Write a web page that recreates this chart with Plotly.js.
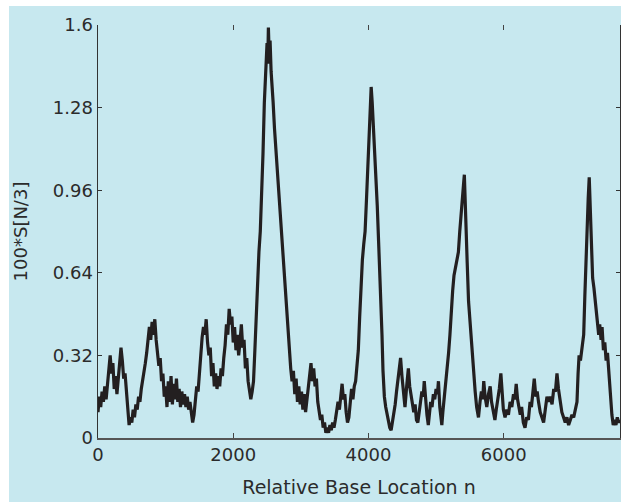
<!DOCTYPE html>
<html>
<head>
<meta charset="utf-8">
<script src="https://cdn.plot.ly/plotly-3.0.1.min.js"></script>
<style>
html,body{margin:0;padding:0;background:#ffffff;}
#chart{position:absolute;left:9px;top:6px;width:612px;height:496px;}
</style>
</head>
<body>
<div id="chart"></div>
<script>
// Relative base location n
const position = [
0,20,40,60,80,100,120,140,160,180,200,220,240,260,280,300,320,340,360,380,400,420,440,460,480,500,520,540,560,580,600,620,640,660,680,700,720,740,760,780,800,820,840,860,880,900,920,940,960,980,
1000,1020,1040,1060,1080,1100,1120,1140,1160,1180,1200,1220,1240,1260,1280,1300,1320,1340,1360,1380,1400,1420,1440,1460,1480,1500,1520,1540,1560,1580,1600,1620,1640,1660,1680,1700,1720,1740,1760,1780,1800,1820,1840,1860,1880,1900,1920,1940,1960,1980,
2000,2020,2040,2060,2080,2100,2120,2140,2160,2180,2200,2220,2240,2260,2280,2300,2320,2340,2360,2380,2400,2420,2440,2460,2480,2500,2510,2520,2530,2545,2560,2575,2590,2610,2630,2650,2670,2690,2710,2730,2750,2770,2790,2810,2830,2850,2870,2890,2910,2930,2950,2970,2990,
3010,3030,3050,3070,3090,3110,3130,3150,3170,3190,3210,3230,3250,3270,3290,3310,3330,3350,3370,3390,3410,3430,3450,3470,3490,3510,3530,3550,3570,3590,3610,3630,3650,3670,3690,3710,3730,3750,3770,3790,3810,3830,3850,3870,3890,3910,3930,3950,3970,3990,
4010,4025,4040,4055,4070,4085,4100,4115,4130,4150,4170,4190,4200,4215,4235,4255,4275,4295,4315,4335,4355,4375,4395,4415,4435,4455,4475,4495,4515,4540,4565,4590,4610,4630,4650,4670,4690,4710,4730,4750,4770,4790,4810,4825,4845,4865,4885,4905,4920,4940,4960,4980,
5000,5020,5035,5055,5070,5085,5100,5115,5135,5150,5165,5185,5205,5225,5245,5265,5285,5305,5330,5350,5370,5390,5405,5418,5430,5445,5460,5480,5505,5528,5550,5578,5600,5627,5650,5670,5690,5705,5725,5750,5775,5800,5820,5845,5870,5890,5910,5935,5958,5975,5995,
6020,6045,6070,6095,6120,6145,6165,6185,6205,6225,6245,6265,6290,6315,6340,6365,6390,6410,6430,6452,6475,6495,6515,6540,6565,6590,6615,6640,6665,6690,6715,6740,6765,6788,6810,6837,6860,6885,6910,6935,6960,6985,
7010,7035,7060,7084,7100,7115,7135,7160,7183,7200,7215,7232,7250,7265,7280,7295,7315,7335,7356,7375,7390,7405,7420,7440,7455,7475,7495,7515,7535,7553,7570,7585,7600,7620,7640,7660,7680,7700,7720
];
// 100*S[N/3]
const signal = [
0.10,0.16,0.12,0.18,0.14,0.20,0.15,0.22,0.27,0.32,0.25,0.29,0.19,0.24,0.17,0.23,0.29,0.35,0.30,0.23,0.25,0.17,0.12,0.05,0.08,0.06,0.11,0.08,0.13,0.11,0.16,0.14,0.19,0.22,0.26,0.29,0.33,0.37,0.43,0.38,0.45,0.40,0.46,0.38,0.34,0.28,0.31,0.22,0.25,0.16,
0.20,0.12,0.22,0.14,0.24,0.13,0.21,0.15,0.23,0.14,0.19,0.12,0.18,0.13,0.17,0.12,0.16,0.11,0.14,0.09,0.06,0.09,0.14,0.20,0.18,0.27,0.32,0.39,0.43,0.40,0.46,0.37,0.32,0.35,0.24,0.29,0.20,0.25,0.19,0.24,0.20,0.27,0.24,0.31,0.36,0.44,0.40,0.50,0.44,0.47,
0.37,0.43,0.34,0.40,0.32,0.37,0.44,0.35,0.38,0.27,0.31,0.22,0.19,0.15,0.18,0.22,0.34,0.48,0.60,0.72,0.80,0.92,1.10,1.30,1.42,1.53,1.45,1.59,1.50,1.54,1.42,1.37,1.30,1.20,1.12,1.03,0.96,0.89,0.82,0.74,0.65,0.56,0.48,0.40,0.33,0.27,0.22,0.26,0.17,0.23,0.14,0.20,0.13,
0.18,0.11,0.17,0.10,0.15,0.20,0.24,0.29,0.22,0.27,0.20,0.23,0.14,0.11,0.07,0.09,0.04,0.06,0.02,0.04,0.02,0.05,0.03,0.06,0.04,0.07,0.10,0.14,0.11,0.18,0.21,0.15,0.17,0.10,0.06,0.08,0.14,0.19,0.15,0.20,0.22,0.27,0.34,0.47,0.60,0.69,0.75,0.80,0.92,1.07,
1.18,1.26,1.36,1.30,1.22,1.12,1.05,1.02,0.90,0.76,0.63,0.50,0.40,0.26,0.16,0.12,0.09,0.06,0.04,0.03,0.06,0.09,0.13,0.18,0.22,0.27,0.31,0.24,0.17,0.12,0.20,0.27,0.20,0.16,0.12,0.10,0.13,0.07,0.06,0.11,0.14,0.18,0.16,0.22,0.13,0.09,0.05,0.09,0.14,0.12,0.17,0.15,
0.19,0.17,0.22,0.12,0.07,0.05,0.10,0.14,0.17,0.22,0.28,0.33,0.40,0.50,0.57,0.63,0.66,0.69,0.72,0.80,0.88,0.93,0.98,1.02,0.90,0.80,0.68,0.53,0.43,0.34,0.26,0.18,0.12,0.08,0.14,0.18,0.15,0.22,0.16,0.12,0.17,0.20,0.14,0.10,0.07,0.11,0.14,0.19,0.25,0.18,0.11,
0.08,0.11,0.09,0.14,0.12,0.17,0.15,0.21,0.15,0.11,0.09,0.12,0.06,0.04,0.08,0.07,0.14,0.12,0.18,0.23,0.16,0.18,0.14,0.10,0.08,0.06,0.11,0.16,0.14,0.16,0.13,0.19,0.18,0.25,0.19,0.14,0.10,0.08,0.06,0.08,0.05,0.07,
0.09,0.08,0.11,0.14,0.25,0.32,0.30,0.35,0.40,0.55,0.68,0.80,0.93,1.01,0.86,0.76,0.62,0.58,0.52,0.47,0.45,0.40,0.44,0.38,0.43,0.34,0.37,0.30,0.33,0.26,0.19,0.12,0.09,0.05,0.07,0.05,0.08,0.06,0.07
];
const xTickVals = [0, 2000, 4000, 6000];
const xTickText = ["0", "2000", "4000", "6000"];
const yTickVals = [0, 0.32, 0.64, 0.96, 1.28, 1.6];
const yTickText = ["0", "0.32", "0.64", "0.96", "1.28", "1.6"];

const bg = "rgb(199,232,239)";
const fontFam = "DejaVu Sans, Liberation Sans, Arial, sans-serif";
const txt = "#2b2b2b";

const trace = {
  x: position, y: signal, type: "scatter", mode: "lines",
  line: {color: "#231f20", width: 3.2},
  hoverinfo: "skip", showlegend: false
};
const topTicks = {
  x: [0], y: [0], xaxis: "x2", yaxis: "y", type: "scatter", mode: "markers",
  marker: {opacity: 0}, hoverinfo: "skip", showlegend: false
};

const layout = {
  width: 612, height: 496,
  paper_bgcolor: bg, plot_bgcolor: bg,
  margin: {l: 89, r: 1, t: 19, b: 64},
  font: {family: fontFam, size: 18, color: txt},
  xaxis: {
    range: [0, 7720], tickvals: xTickVals, ticktext: xTickText,
    ticks: "inside", ticklen: 5, tickwidth: 1.2, tickcolor: "#444",
    showline: true, linecolor: "#555", linewidth: 1.8,
    showgrid: false, zeroline: false,
    tickfont: {size: 18, family: fontFam, color: txt},
    title: {text: "Relative Base Location n", font: {size: 19, family: fontFam, color: txt}, standoff: 16}
  },
  xaxis2: {
    overlaying: "x", matches: "x", side: "top", range: [0, 7720],
    tickvals: xTickVals, ticks: "inside", ticklen: 5, tickwidth: 1.2, tickcolor: "#444",
    showticklabels: false, showline: false, showgrid: false, zeroline: false
  },
  yaxis: {
    range: [0, 1.6], tickvals: yTickVals, ticktext: yTickText,
    ticks: "inside", ticklen: 4, tickwidth: 1.2, tickcolor: "#333",
    showline: true, linecolor: "#333", linewidth: 1.5, mirror: "ticks",
    showgrid: false, zeroline: false,
    tickfont: {size: 18, family: fontFam, color: txt},
    title: {text: "100*S[N/3]", font: {size: 18, family: fontFam, color: txt}, standoff: 20}
  }
};

Plotly.newPlot("chart", [trace, topTicks], layout, {displayModeBar: false, staticPlot: true});
</script>
</body>
</html>
